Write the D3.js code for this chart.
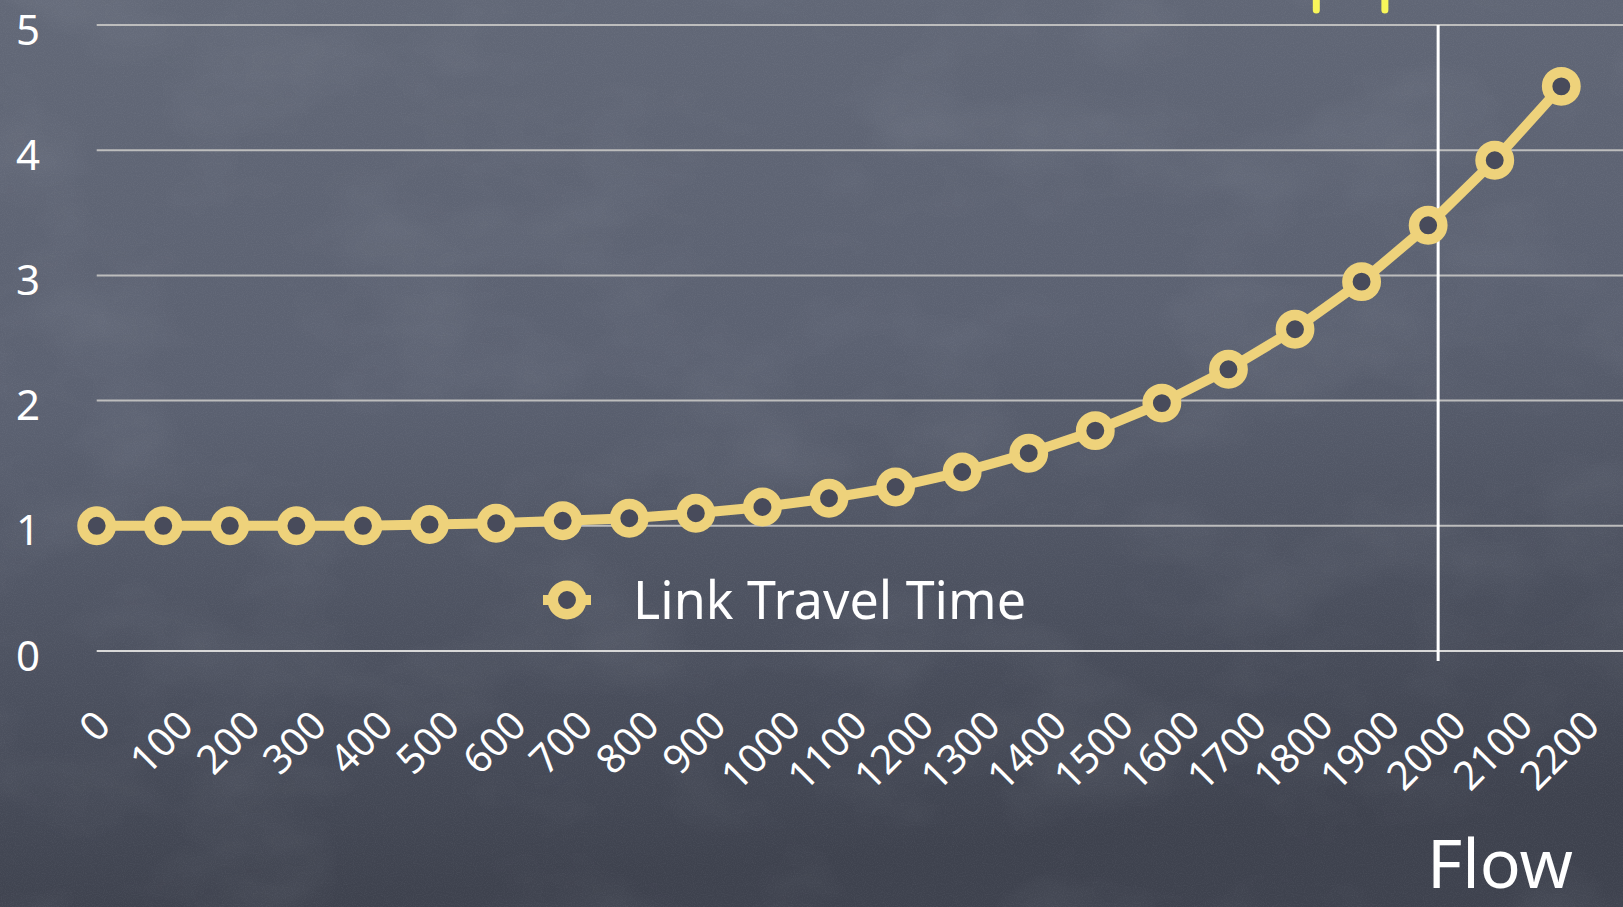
<!DOCTYPE html>
<html>
<head>
<meta charset="utf-8">
<script src="https://cdn.jsdelivr.net/npm/d3@7"></script>
<style>
  html, body { margin: 0; padding: 0; background: #4a4f5c; overflow: hidden; }
  svg { display: block; font-family: "Comic Sans MS", "Chalkboard SE", "Noto Sans", sans-serif; }
</style>
</head>
<body>
<svg id="chart"></svg>
<script>
// flow values (x) and link travel time (y)
var flows = [0, 100, 200, 300, 400, 500, 600, 700, 800, 900, 1000, 1100,
             1200, 1300, 1400, 1500, 1600, 1700, 1800, 1900, 2000, 2100, 2200];
var travelTimes = [1.00, 1.00, 1.00, 1.00, 1.00, 1.01, 1.02, 1.04, 1.06, 1.10, 1.15, 1.22,
                   1.31, 1.43, 1.58, 1.76, 1.98, 2.25, 2.57, 2.95, 3.40, 3.92, 4.51];
var yTicks = [0, 1, 2, 3, 4, 5];
var capacityFlow = 2015;          // white vertical marker
var topMarkFlows = [1832, 1935];  // yellow strokes cut off at the top
var seriesName = "Link Travel Time";
var xTitle = "Flow";

var w = 1623, h = 907;
var svg = d3.select("#chart").attr("width", w).attr("height", h);

var x = d3.scaleLinear().domain([0, 2200]).range([96.7, 1561.3]);
var y = d3.scaleLinear().domain([0, 5]).range([651, 25]);

// chalkboard background
var defs = svg.append("defs");
var grad = defs.append("linearGradient").attr("id", "board")
  .attr("x1", 0).attr("y1", 0).attr("x2", 0.15).attr("y2", 1);
grad.append("stop").attr("offset", "0%").attr("stop-color", "#626877");
grad.append("stop").attr("offset", "45%").attr("stop-color", "#5b6171");
grad.append("stop").attr("offset", "75%").attr("stop-color", "#4b505e");
grad.append("stop").attr("offset", "100%").attr("stop-color", "#3e424e");

var noise = defs.append("filter").attr("id", "chalk")
  .attr("x", 0).attr("y", 0).attr("width", "100%").attr("height", "100%");
noise.append("feTurbulence").attr("type", "fractalNoise")
  .attr("baseFrequency", "0.006 0.01").attr("numOctaves", 4).attr("seed", 7);
noise.append("feColorMatrix").attr("type", "matrix")
  .attr("values", "0 0 0 0 0.85  0 0 0 0 0.88  0 0 0 0 0.95  0 0 0 1.1 -0.5");

var grain = defs.append("filter").attr("id", "grain")
  .attr("x", 0).attr("y", 0).attr("width", "100%").attr("height", "100%");
grain.append("feTurbulence").attr("type", "fractalNoise")
  .attr("baseFrequency", 0.9).attr("numOctaves", 2).attr("seed", 3);
grain.append("feColorMatrix").attr("type", "matrix")
  .attr("values", "0 0 0 0 0.8  0 0 0 0 0.82  0 0 0 0 0.9  0 0 0 0.9 -0.35");

svg.append("rect").attr("width", w).attr("height", h).attr("fill", "url(#board)");
svg.append("rect").attr("width", w).attr("height", h).attr("filter", "url(#chalk)").attr("opacity", 0.12);
svg.append("rect").attr("width", w).attr("height", h).attr("filter", "url(#grain)").attr("opacity", 0.12);

// yellow marks at the top edge
svg.selectAll(".topmark")
  .data(topMarkFlows)
  .enter()
  .append("line")
    .attr("class", "topmark")
    .attr("x1", function(d){ return x(d); })
    .attr("x2", function(d){ return x(d); })
    .attr("y1", -10)
    .attr("y2", 10)
    .attr("stroke", "#f8f65a")
    .attr("stroke-width", 7)
    .attr("stroke-linecap", "round");

// horizontal gridlines
svg.selectAll(".grid")
  .data(yTicks)
  .enter()
  .append("line")
    .attr("class", "grid")
    .attr("x1", x(0))
    .attr("x2", w)
    .attr("y1", function(d){ return y(d); })
    .attr("y2", function(d){ return y(d); })
    .attr("stroke", function(d){ return d === 0 ? "#d8d8d8" : "#bdbdbd"; })
    .attr("stroke-width", 2);

// y tick labels
svg.selectAll(".ylab")
  .data(yTicks)
  .enter()
  .append("text")
    .attr("class", "ylab")
    .attr("x", 28)
    .attr("y", function(d){ return y(d) + 3; })
    .attr("text-anchor", "middle")
    .attr("dominant-baseline", "central")
    .attr("fill", "#ffffff")
    .style("font-size", "42px")
    .text(function(d){ return d; });

// capacity vertical line
svg.append("line")
  .attr("x1", x(capacityFlow)).attr("x2", x(capacityFlow))
  .attr("y1", y(5)).attr("y2", y(0) + 10)
  .attr("stroke", "#ffffff")
  .attr("stroke-width", 3);

// x tick labels, rotated, top-aligned under the axis
var xl = svg.selectAll(".xlab")
  .data(flows)
  .enter()
  .append("text")
    .attr("class", "xlab")
    .attr("text-anchor", "middle")
    .attr("dominant-baseline", "central")
    .attr("fill", "#ffffff")
    .style("font-size", "40px")
    .text(function(d){ return d; });
xl.attr("transform", function(d){
  var L = this.getComputedTextLength();
  var half = (L + 28) * 0.7071 / 2;
  return "translate(" + (x(d) - 3) + "," + (707 + half) + ") rotate(-45)";
});

// series line
var line = d3.line()
  .x(function(d, i){ return x(flows[i]); })
  .y(function(d){ return y(d); });

svg.append("path")
  .datum(travelTimes)
  .attr("d", line)
  .attr("fill", "none")
  .attr("stroke", "#eed27b")
  .attr("stroke-width", 10)
  .attr("stroke-linejoin", "round");

svg.selectAll(".dot")
  .data(travelTimes)
  .enter()
  .append("circle")
    .attr("class", "dot")
    .attr("cx", function(d, i){ return x(flows[i]); })
    .attr("cy", function(d){ return y(d); })
    .attr("r", 14.2)
    .attr("fill", "#484b5b")
    .attr("stroke", "#eed27b")
    .attr("stroke-width", 10.5);

// legend
var lg = svg.append("g").attr("transform", "translate(567,600)");
lg.append("line").attr("x1", -24).attr("x2", 24).attr("y1", 0).attr("y2", 0)
  .attr("stroke", "#eed27b").attr("stroke-width", 10);
lg.append("circle").attr("r", 14.2)
  .attr("fill", "#484b5b").attr("stroke", "#eed27b").attr("stroke-width", 10.5);
lg.append("text")
  .attr("x", 66).attr("y", 19)
  .attr("fill", "#ffffff")
  .style("font-size", "52px")
  .text(seriesName);

// axis title
svg.append("text")
  .attr("x", 1573).attr("y", 888)
  .attr("text-anchor", "end")
  .attr("fill", "#ffffff")
  .style("font-size", "68px")
  .text(xTitle);
</script>
</body>
</html>
